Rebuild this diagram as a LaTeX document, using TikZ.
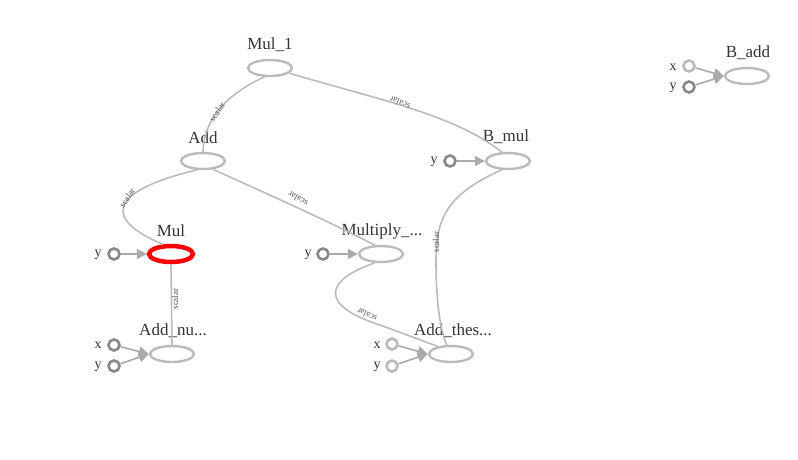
\documentclass[tikz,border=0pt]{standalone}
\usepackage{fontspec}
\setmainfont{Liberation Serif}
\usetikzlibrary{shapes.geometric,arrows.meta}
\definecolor{edgec}{HTML}{BBBBBB}
\definecolor{arrc}{HTML}{AAAAAA}
\definecolor{portd}{HTML}{888888}
\definecolor{portl}{HTML}{BBBBBB}
\definecolor{txt}{HTML}{333333}
\tikzset{
  opnode/.style={ellipse,draw=edgec,line width=2.4pt,minimum width=44pt,minimum height=16pt,inner sep=0pt},
  hotnode/.style={ellipse,draw=red,line width=4.5pt,minimum width=44pt,minimum height=16pt,inner sep=0pt},
  optext/.style={font=\fontsize{17}{17}\selectfont,text=txt,inner sep=0pt},
  porttext/.style={font=\fontsize{14}{14}\selectfont,text=txt,inner sep=0pt},
  portdark/.style={circle,draw=portd,line width=2.6pt,minimum size=11pt,inner sep=0pt},
  portlight/.style={circle,draw=portl,line width=2.6pt,minimum size=11pt,inner sep=0pt},
  flow/.style={draw=edgec,line width=1.6pt},
  feed/.style={draw=arrc,line width=1.6pt,-{Triangle[length=10pt,width=10pt]},arrc},
  elab/.style={font=\fontsize{9}{9}\selectfont,text=txt!85,inner sep=0pt},
}
\begin{document}
\begin{tikzpicture}[x=1pt,y=-1pt]
\useasboundingbox (0,0) rectangle (798,459);
% op nodes
\node[opnode] (mul1) at (270,68) {};
\node[opnode] (add) at (203,161) {};
\node[hotnode] (mul) at (171,254) {};
\node[opnode] (addnu) at (172,354) {};
\node[opnode] (multiply) at (381,254) {};
\node[opnode] (bmul) at (508,161) {};
\node[opnode] (addthes) at (451,354) {};
\node[opnode] (badd) at (747,76) {};
% op labels
\node[optext] (tmul1) at (270,45) {Mul\_1};
\node[optext] (tadd) at (203,138) {Add};
\node[optext] (tmul) at (171,231) {Mul};
\node[optext] (taddnu) at (173,331) {Add\_nu...};
\node[optext] (tmultiply) at (382,231) {Multiply\_...};
\node[optext] (tbmul) at (506,137) {B\_mul};
\node[optext] (taddthes) at (453,331) {Add\_thes...};
\node[optext] (tbadd) at (748,53) {B\_add};
% ports
\node[portdark] (mul_y) at (114,254) {};
\node[porttext] (tmul_y) at (98,255) {y};
\node[portdark] (addnu_x) at (114,345) {};
\node[porttext] (taddnu_x) at (98,345) {x};
\node[portdark] (addnu_y) at (114,366) {};
\node[porttext] (taddnu_y) at (98,367) {y};
\node[portdark] (mult_y) at (323,254) {};
\node[porttext] (tmult_y) at (308,255) {y};
\node[portdark] (bmul_y) at (450,161) {};
\node[porttext] (tbmul_y) at (434,162) {y};
\node[portlight] (addthes_x) at (392,344) {};
\node[porttext] (taddthes_x) at (377,345) {x};
\node[portlight] (addthes_y) at (392,366) {};
\node[porttext] (taddthes_y) at (377,367) {y};
\node[portlight] (badd_x) at (689,66) {};
\node[porttext] (tbadd_x) at (673,67) {x};
\node[portdark] (badd_y) at (689,87) {};
\node[porttext] (tbadd_y) at (673,88) {y};
% feed arrows
\draw[feed] (mul_y) -- (mul.west);
\draw[feed] (addnu_x) -- (addnu.west);
\draw[feed] (addnu_y) -- (addnu.west);
\draw[feed] (mult_y) -- (multiply.west);
\draw[feed] (bmul_y) -- (bmul.west);
\draw[feed] (addthes_x) -- (addthes.west);
\draw[feed] (addthes_y) -- (addthes.west);
\draw[feed] (badd_x) -- (badd.west);
\draw[feed] (badd_y) -- (badd.west);
% data edges
\draw[flow] (mul1.238) .. controls (225,95) and (204,120) .. (add.north);
\node[elab,rotate=55] (l1) at (217,112) {scalar};
\draw[flow] (mul1.345) .. controls (380,100) and (455,115) .. (bmul.125);
\node[elab,rotate=158] (l2) at (400,103) {scalar};
\draw[flow] (add.235) .. controls (105,192) and (105,220) .. (mul.130);
\node[elab,rotate=55] (l3) at (127,198) {scalar};
\draw[flow] (add.320) .. controls (270,195) and (330,222) .. (multiply.125);
\node[elab,rotate=152] (l4) at (298,199) {scalar};
\draw[flow] (mul.south) -- (addnu.north);
\node[elab,rotate=90] (l5) at (175,299) {scalar};
\draw[flow] (multiply.235) .. controls (325,280) and (318,305) .. (380,325) -- (addthes.150);
\node[elab,rotate=155] (l6) at (367,315) {scalar};
\draw[flow] (bmul.235) .. controls (445,195) and (436,220) .. (436,262) .. controls (436,300) and (440,330) .. (addthes.115);
\node[elab,rotate=90] (l7) at (436,242) {scalar};
\end{tikzpicture}
\end{document}
